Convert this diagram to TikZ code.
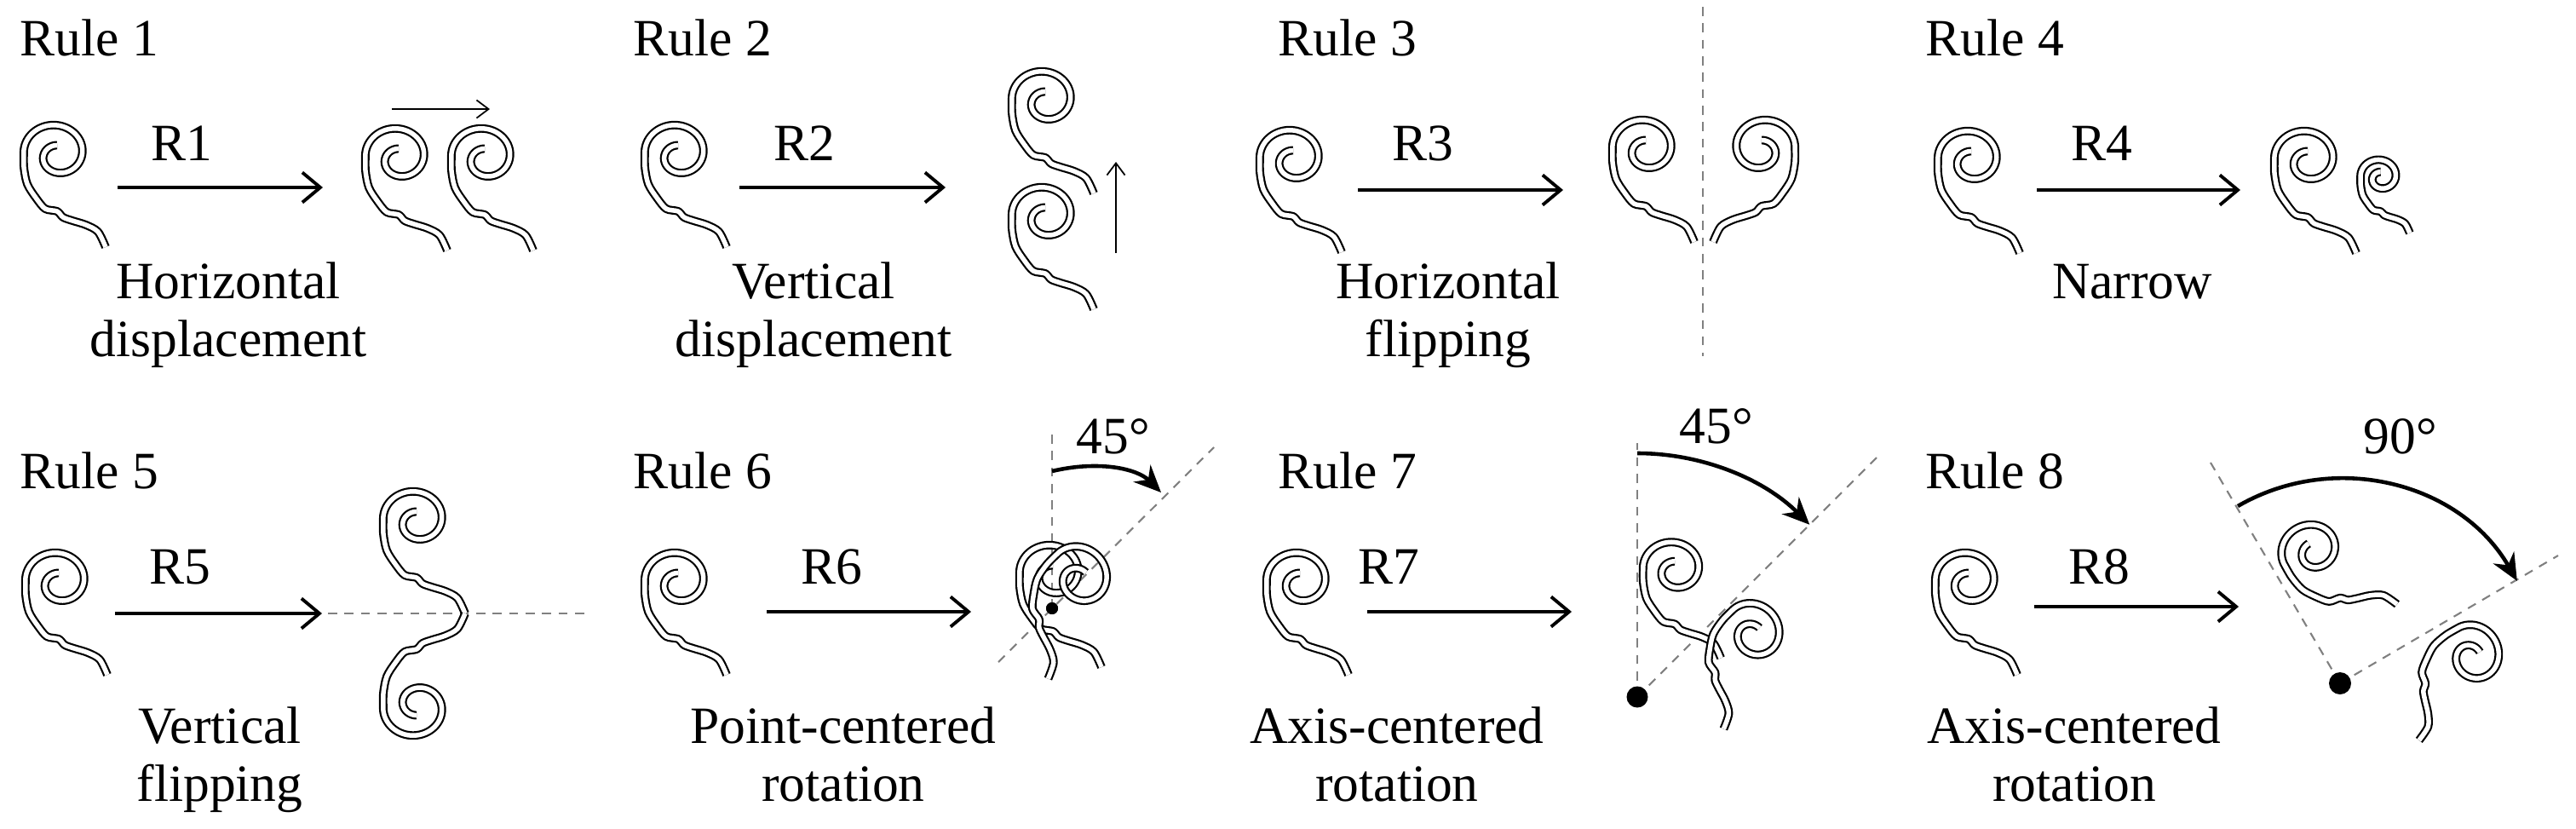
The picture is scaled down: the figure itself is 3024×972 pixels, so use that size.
\documentclass[tikz,border=0pt]{standalone}
\usepackage{fontspec}
\setmainfont{Liberation Serif}
\newfontfamily\tnr{Liberation Serif}
\usetikzlibrary{arrows.meta}
\newcommand\mymotif[2][]{%
  \begin{scope}[shift={#2},#1]
    \draw[motifline] plot[smooth] coordinates {(58,114) (49,96) (35,88) (19,83) (8,79) (1,72) (-13,69) (-24,56) (-34,40) (-38,20) (-38,0)}
      -- plot[domain=180:615,samples=90,variable=\t]
      ({5*(\t-180)/435 + 38*(1-0.6*(\t-180)/435)*cos(\t)},
       {8*(\t-180)/435 + 35*(1-0.6*(\t-180)/435)*sin(\t)});
  \end{scope}}
\begin{document}
\begin{tikzpicture}[x=0.01cm,y=-0.01cm,
  motifline/.style={double=white,double distance=0.055cm,line width=0.022cm,line join=round},
  lbl/.style={font=\tnr\fontsize{17.5}{21}\selectfont,inner sep=0,anchor=base},
  rulel/.style={lbl,anchor=base west},
  arr/.style={line width=1.1pt,-{Straight Barb[length=6pt,width=10pt,line width=1.1pt]}},
  thin/.style={line width=0.5pt,-{Straight Barb[length=4pt,width=6pt]}},
  dsh/.style={gray,line width=0.6pt,dash pattern=on 3pt off 2.5pt},
  rot/.style={line width=1.3pt,-{Stealth[length=9pt,width=8pt]}},
  dot/.style={circle,fill=black,inner sep=0}]
\useasboundingbox (0,0) rectangle (3024,972);
% ---------- row 1 ----------
\node[rulel] (L1) at (23,65) {Rule 1};
\node[rulel] (L2) at (743,65) {Rule 2};
\node[rulel] (L3) at (1500,65) {Rule 3};
\node[rulel] (L4) at (2260,65) {Rule 4};
% rule 1
\mymotif{(66,176)}
\coordinate (a1s) at (138,220); \coordinate (a1e) at (379,220);
\draw[arr] (a1s) -- (a1e);
\node[lbl] (R1) at (213,188) {R1};
\node[lbl] (c1a) at (268,350) {Horizontal};
\node[lbl] (c1b) at (268,418) {displacement};
\mymotif{(467,180)}
\mymotif{(568,180)}
\coordinate (h1s) at (460,128); \coordinate (h1e) at (575,128);
\draw[thin] (h1s) -- (h1e);
% rule 2
\mymotif{(795,176)}
\coordinate (a2s) at (868,220); \coordinate (a2e) at (1110,220);
\draw[arr] (a2s) -- (a2e);
\node[lbl] (R2) at (944,188) {R2};
\node[lbl] (c2a) at (955,350) {Vertical};
\node[lbl] (c2b) at (955,418) {displacement};
\mymotif{(1226,113)}
\mymotif{(1226,249)}
\coordinate (v2s) at (1310,297); \coordinate (v2e) at (1310,190);
\draw[thin] (v2s) -- (v2e);
% rule 3
\mymotif{(1517,182)}
\coordinate (a3s) at (1594,223); \coordinate (a3e) at (1835,223);
\draw[arr] (a3s) -- (a3e);
\node[lbl] (R3) at (1670,188) {R3};
\node[lbl] (c3a) at (1700,350) {Horizontal};
\node[lbl] (c3b) at (1700,418) {flipping};
\coordinate (d3a) at (1999,8); \coordinate (d3b) at (1999,418);
\draw[dsh] (d3a) -- (d3b);
\mymotif{(1931,170)}
\mymotif[xscale=-1]{(2069,170)}
% rule 4
\mymotif{(2313,183)}
\coordinate (a4s) at (2391,223); \coordinate (a4e) at (2630,223);
\draw[arr] (a4s) -- (a4e);
\node[lbl] (R4) at (2467,188) {R4};
\node[lbl] (c4a) at (2503,350) {Narrow};
\mymotif{(2708,183)}
\mymotif[scale=0.6]{(2794,205)}
% ---------- row 2 ----------
\node[rulel] (L5) at (23,573) {Rule 5};
\node[rulel] (L6) at (743,573) {Rule 6};
\node[rulel] (L7) at (1500,573) {Rule 7};
\node[rulel] (L8) at (2260,573) {Rule 8};
% rule 5
\mymotif{(68,678)}
\coordinate (a5s) at (135,720); \coordinate (a5e) at (378,720);
\draw[arr] (a5s) -- (a5e);
\node[lbl] (R5) at (211,685) {R5};
\node[lbl] (c5a) at (258,872) {Vertical};
\node[lbl] (c5b) at (258,940) {flipping};
\coordinate (d5a) at (385,720); \coordinate (d5b) at (690,720);
\draw[dsh] (d5a) -- (d5b);
\mymotif{(488,606)}
\mymotif[yscale=-1]{(488,834)}
% rule 6
\mymotif{(795,678)}
\coordinate (a6s) at (900,718); \coordinate (a6e) at (1140,718);
\draw[arr] (a6s) -- (a6e);
\node[lbl] (R6) at (976,685) {R6};
\node[lbl] (c6a) at (990,872) {Point-centered};
\node[lbl] (c6b) at (990,940) {rotation};
\node[dot,minimum size=0.14cm] (p6) at (1235,714) {};
\coordinate (v6) at (1235,505);
\coordinate (g6a) at (1172,777); \coordinate (g6b) at (1425,525);
\draw[dsh] (p6.center) -- (v6);
\draw[dsh] (g6a) -- (g6b);
\mymotif{(1235,669)}
\mymotif[rotate=-45]{(1270,675)}
\node[dot,minimum size=0.14cm] (p6b) at (p6) {};
\coordinate (r6s) at (1235,553); \coordinate (r6e) at (1363,578);
\draw[rot] (r6s) .. controls (1290,540) and (1335,550) .. (r6e);
\node[lbl] (t6) at (1307,532) {45°};
% rule 7
\mymotif{(1525,678)}
\coordinate (a7s) at (1605,718); \coordinate (a7e) at (1845,718);
\draw[arr] (a7s) -- (a7e);
\node[lbl] (R7) at (1630,685) {R7};
\node[lbl] (c7a) at (1640,872) {Axis-centered};
\node[lbl] (c7b) at (1640,940) {rotation};
\coordinate (p7c) at (1922,818);
\coordinate (v7) at (1922,520);
\coordinate (g7) at (2203,537);
\draw[dsh] (p7c) -- (v7);
\draw[dsh] (p7c) -- (g7);
\mymotif[scale=0.95]{(1965,664)}
\mymotif[scale=0.95,rotate=-45]{(2061,740)}
\node[dot,minimum size=0.25cm] (p7) at (p7c) {};
\coordinate (r7s) at (1922,532);
\draw[rot] (r7s) arc[start angle=270,end angle=315,radius=286];
\node[lbl] (t7) at (2015,520) {45°};
% rule 8
\mymotif{(2310,678)}
\coordinate (a8s) at (2388,712); \coordinate (a8e) at (2628,712);
\draw[arr] (a8s) -- (a8e);
\node[lbl] (R8) at (2464,685) {R8};
\node[lbl] (c8a) at (2435,872) {Axis-centered};
\node[lbl] (c8b) at (2435,940) {rotation};
\coordinate (p8c) at (2747,802);
\coordinate (g8a) at (2595,543);
\coordinate (g8b) at (3003,652);
\draw[dsh] (p8c) -- (g8a);
\draw[dsh] (p8c) -- (g8b);
\mymotif[scale=0.95,rotate=30]{(2712,643)}
\mymotif[scale=0.95,rotate=-60]{(2906,767)}
\node[dot,minimum size=0.26cm] (p8) at (p8c) {};
\coordinate (r8s) at (2627,594);
\draw[rot] (r8s) arc[start angle=240,end angle=330,radius=240];
\node[lbl] (t8) at (2818,532) {90°};
\end{tikzpicture}
\end{document}
